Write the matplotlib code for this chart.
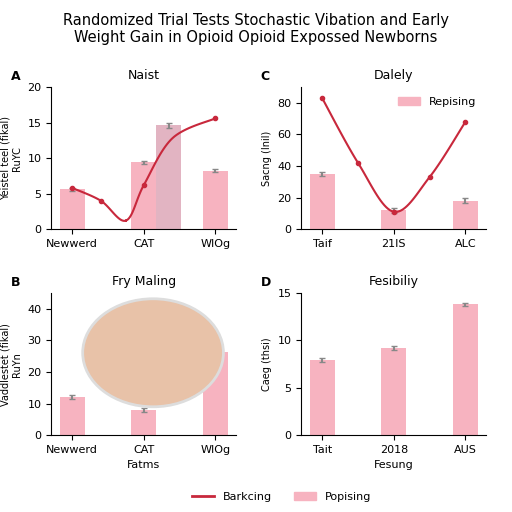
import matplotlib
matplotlib.use("Agg")
import matplotlib.pyplot as plt
import numpy as np
from matplotlib.patches import Patch, Circle
from matplotlib.lines import Line2D

catsA = ["Newwerd", "CAT", "WIOg"]
barsA = [5.6, 9.4, 8.2]
darkA = 14.6
lineAx = [0, 0.4, 0.75, 1, 1.4, 2]
lineAy = [5.8, 4.0, 1.2, 6.2, 12.8, 15.6]
catsB = ["Newwerd", "CAT", "WIOg"]
barsB = [12, 8, 26.5]
catsC = ["Taif", "21IS", "ALC"]
barsC = [35, 12, 18]
lineCx = [0, 0.5, 1, 1.5, 2]
lineCy = [83, 42, 11, 33, 68]
catsD = ["Tait", "2018", "AUS"]
barsD = [7.9, 9.2, 13.8]

pink = "#f7b3c0"
red = "#c8283c"

def catmull(px, py, n=20):
    px = np.asarray(px, float); py = np.asarray(py, float)
    P = np.column_stack([px, py])
    P = np.vstack([P[0], P, P[-1]])
    out = []
    t = np.linspace(0, 1, n)[:, None]
    for i in range(1, len(P) - 2):
        p0, p1, p2, p3 = P[i-1], P[i], P[i+1], P[i+2]
        out.append(0.5 * ((2*p1) + (-p0+p2)*t + (2*p0-5*p1+4*p2-p3)*t**2 + (-p0+3*p1-3*p2+p3)*t**3))
    o = np.vstack(out)
    return o[:, 0], o[:, 1]

fig, axs = plt.subplots(2, 2, figsize=(5.12, 5.12), dpi=100)
fig.subplots_adjust(left=0.1, right=0.95, top=0.83, bottom=0.15, hspace=0.45, wspace=0.35)
fig.suptitle("Randomized Trial Tests Stochastic Vibation and Early\nWeight Gain in Opioid Opioid Expossed Newborns",
             fontsize=10.5, y=0.975)

def style(ax):
    for s in ["top", "right"]:
        ax.spines[s].set_visible(False)
    ax.tick_params(labelsize=8)

x = np.arange(3)
ax = axs[0, 0]
ax.bar(x, barsA, width=0.35, color=pink, yerr=[0.2]*3, ecolor="#888", capsize=2)
ax.bar(1.35, darkA, width=0.35, color="#e2b4c2", yerr=0.3, ecolor="#888", capsize=2)
sx, sy = catmull(lineAx, lineAy)
ax.plot(sx, sy, color=red, lw=1.5)
ax.plot([0, 0.4, 1, 2], [5.8, 4.0, 6.2, 15.6], "o", color=red, ms=3)
ax.set_xticks(x, catsA); ax.set_ylim(0, 20)
ax.set_title("Naist", fontsize=9); ax.set_ylabel("Yeistel teel (fikal)\nRuYC", fontsize=7)
style(ax)

ax = axs[0, 1]
ax.bar(x, barsC, width=0.35, color=pink, yerr=[1.5]*3, ecolor="#888", capsize=2)
sx, sy = catmull(lineCx, lineCy)
ax.plot(sx, sy, color=red, lw=1.5)
ax.plot(lineCx, lineCy, "o", color=red, ms=3)
ax.set_xticks(x, catsC); ax.set_ylim(0, 90)
ax.set_title("Dalely", fontsize=9); ax.set_ylabel("Sacng (Inil)", fontsize=7)
ax.legend(handles=[Patch(color=pink, label="Repising")], fontsize=8, frameon=False, loc="upper right")
style(ax)

ax = axs[1, 0]
ax.bar(x, barsB, width=0.35, color=pink, yerr=[0.6]*3, ecolor="#888", capsize=2)
ax.set_xticks(x, catsB); ax.set_ylim(0, 45)
ax.set_title("Fry Maling", fontsize=9); ax.set_ylabel("Vaddlestet (fikal)\nRuYn", fontsize=7)
ax.set_xlabel("Fatms", fontsize=8)
ax.add_patch(Circle((0.55, 0.58), 0.38, transform=ax.transAxes, facecolor="#e8c2a8",
                    edgecolor="#ddd", lw=2, zorder=5))
style(ax)

ax = axs[1, 1]
ax.bar(x, barsD, width=0.35, color=pink, yerr=[0.2]*3, ecolor="#888", capsize=2)
ax.set_xticks(x, catsD); ax.set_ylim(0, 15); ax.set_yticks([0, 5, 10, 15])
ax.set_title("Fesibiliy", fontsize=9); ax.set_ylabel("Caeg (thsi)", fontsize=7)
ax.set_xlabel("Fesung", fontsize=8)
style(ax)

for a, l in zip(axs.flat, "ACBD"):
    a.text(-0.22, 1.05, l, transform=a.transAxes, fontsize=9, fontweight="bold")

fig.legend(handles=[Line2D([], [], color=red, lw=2, label="Barkcing"), Patch(color=pink, label="Popising")],
           loc="lower center", ncol=2, frameon=False, fontsize=8, bbox_to_anchor=(0.55, 0.0))
fig.savefig("out.png", dpi=100)
